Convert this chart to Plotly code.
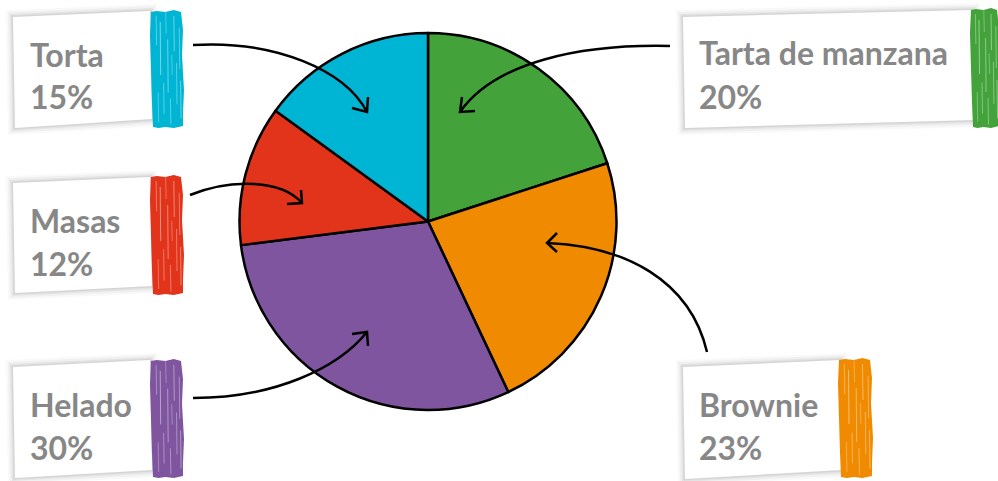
import plotly.graph_objects as go

W, H = 998, 481

categories = ["Tarta de manzana", "Brownie", "Helado", "Masas", "Torta"]
values = [20, 23, 30, 12, 15]
colors = ["#43A33A", "#F08A00", "#7E559E", "#E2341A", "#00B5D4"]
pct_labels = ["20%", "23%", "30%", "12%", "15%"]

def px(x):
    return x / W

def py(y):
    return 1 - y / H

def path(pts, close=True):
    s = "M " + " L ".join(f"{px(x):.5f},{py(y):.5f}" for x, y in pts)
    return s + (" Z" if close else "")

def cubic(p0, c1, c2, p3):
    return (f"M {px(p0[0]):.5f},{py(p0[1]):.5f} C {px(c1[0]):.5f},{py(c1[1]):.5f} "
            f"{px(c2[0]):.5f},{py(c2[1]):.5f} {px(p3[0]):.5f},{py(p3[1]):.5f}")

fig = go.Figure()

cx, cy, r = 428, 221.5, 188.5
fig.add_trace(go.Pie(
    values=values, labels=categories, sort=False, direction="clockwise",
    rotation=0, marker=dict(colors=colors, line=dict(color="black", width=2.5)),
    textinfo="none", hoverinfo="skip", showlegend=False,
    domain=dict(x=[px(cx - r), px(cx + r)], y=[py(cy + r), py(cy - r)]),
))

shapes = []
annotations = []

boxes = {
    "Torta": ([(13, 17), (150, 11), (152, 119), (15, 128)], (150, 184, 10, 128), 28, 54, 97),
    "Masas": ([(13, 183), (150, 177), (152, 286), (15, 293)], (150, 184, 175, 295), 28, 220, 263),
    "Helado": ([(13, 367), (150, 360), (152, 470), (15, 478)], (150, 184, 359, 478), 28, 404, 447),
    "Tarta de manzana": ([(683, 17), (973, 10), (975, 120), (685, 128)], (970, 1000, 8, 128), 697, 53, 97),
    "Brownie": ([(683, 367), (840, 360), (842, 470), (685, 479)], (838, 873, 358, 478), 697, 404, 447),
}

streaks = [(0.18, 0.05, 0.30, 0.7), (0.30, 0.10, 0.55, 0.9), (0.40, 0.62, 0.88, 0.7),
           (0.52, 0.25, 0.70, 0.8), (0.60, 0.75, 0.97, 0.7), (0.70, 0.05, 0.35, 0.8),
           (0.78, 0.45, 0.80, 0.7), (0.86, 0.15, 0.50, 0.7), (0.90, 0.60, 0.92, 0.8),
           (0.24, 0.70, 0.95, 0.6), (0.64, 0.38, 0.55, 0.6), (0.46, 0.02, 0.20, 0.6)]

for cat, col, pct in zip(categories, colors, pct_labels):
    pts, (bx0, bx1, by0, by1), tx, ty1, ty2 = boxes[cat]
    for k, a in [(7, 0.025), (5, 0.035), (3, 0.05), (1.5, 0.06)]:
        sp = [(pts[0][0] - k, pts[0][1] - k), (pts[1][0] + k, pts[1][1] - k),
              (pts[2][0] + k, pts[2][1] + k), (pts[3][0] - k, pts[3][1] + k)]
        shapes.append(dict(type="path", xref="paper", yref="paper", path=path(sp),
                           fillcolor=f"rgba(0,0,0,{a})", line=dict(width=0), layer="below"))
    shapes.append(dict(type="path", xref="paper", yref="paper", path=path(pts),
                       fillcolor="white", line=dict(width=0), layer="below"))
    wdt = bx1 - bx0
    top = [(bx0 + 1, by0 + 2), (bx0 + wdt * 0.2, by0 + 1), (bx0 + wdt * 0.45, by0 + 2),
           (bx0 + wdt * 0.7, by0), (bx1 - 3, by0 + 2)]
    right = [(bx1 - 1, by0 + 20), (bx1 - 2, by0 + 45), (bx1, by0 + 80), (bx1 - 1, by1 - 15)]
    bot = [(bx1 - 1, by1 - 2), (bx0 + wdt * 0.7, by1), (bx0 + wdt * 0.45, by1 - 1),
           (bx0 + wdt * 0.25, by1), (bx0 + 3, by1 - 1)]
    left = [(bx0 + 2, by1 - 25), (bx0 + 1, by0 + 60), (bx0, by0 + 25)]
    shapes.append(dict(type="path", xref="paper", yref="paper",
                       path=path(top + right + bot + left),
                       fillcolor=col, line=dict(width=0), layer="above"))
    for fx, fy0, fy1, lw in streaks:
        sx = bx0 + wdt * fx
        shapes.append(dict(type="line", xref="paper", yref="paper",
                           x0=px(sx), x1=px(sx + 0.5), y0=py(by0 + (by1 - by0) * fy0),
                           y1=py(by0 + (by1 - by0) * fy1),
                           line=dict(color="rgba(255,255,255,0.5)", width=lw), layer="above"))
    for txt, ty in [(cat, ty1), (pct, ty2)]:
        annotations.append(dict(x=px(tx), y=py(ty), xref="paper", yref="paper",
                                xanchor="left", yanchor="middle", showarrow=False,
                                text=f"<b>{txt}</b>",
                                font=dict(family="Lato", size=32, color="#878787", weight=900)))

arrows = [
    ((193, 45), (275, 40), (345, 70), (367, 112), [(352, 108), (368, 97)]),
    ((670, 46), (580, 44), (495, 62), (460, 112), [(475, 111), (462, 97)]),
    ((190, 195), (232, 178), (282, 180), (302, 203), [(287, 204), (301, 190)]),
    ((193, 398), (275, 398), (338, 368), (367, 332), [(352, 334), (368, 346)]),
    ((707, 352), (690, 280), (625, 246), (547, 243), [(557, 233), (557, 252)]),
]
for p0, c1, c2, p3, heads in arrows:
    shapes.append(dict(type="path", xref="paper", yref="paper", path=cubic(p0, c1, c2, p3),
                       line=dict(color="black", width=2.5), layer="above"))
    shapes.append(dict(type="path", xref="paper", yref="paper",
                       path=path([heads[0], p3, heads[1]], close=False),
                       line=dict(color="black", width=2.5), layer="above"))

fig.update_layout(
    width=W, height=H, margin=dict(l=0, r=0, t=0, b=0),
    paper_bgcolor="white", plot_bgcolor="white",
    shapes=shapes, annotations=annotations,
)

fig.write_html("out.html", config={"displayModeBar": False},
               post_script="document.body.style.margin='0px';document.body.style.overflow='hidden';")
